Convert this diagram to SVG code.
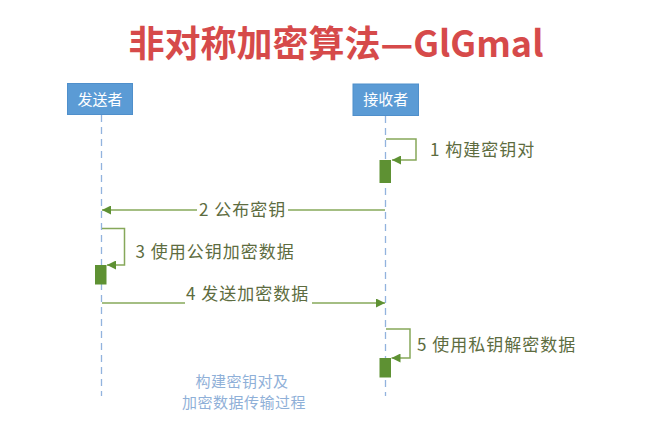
<svg xmlns="http://www.w3.org/2000/svg" width="661" height="427" viewBox="0 0 661 427">
<style>
.title{font-family:"Noto Sans CJK SC","Liberation Sans",sans-serif;font-weight:bold;font-size:36px;fill:#d64a4a;}
.box{fill:#5b9bd5;stroke:#4f8fcb;stroke-width:1;}
.boxt{font-family:"Noto Sans CJK SC",sans-serif;font-size:15px;fill:#ffffff;}
.life{stroke:#92b3de;stroke-width:1.3;stroke-dasharray:7 5;fill:none;}
.msg{stroke:#86a85a;stroke-width:1.5;fill:none;}
.bar{fill:#5e9133;}
.lbl{font-family:"Noto Sans CJK SC","Liberation Sans",sans-serif;font-size:17px;letter-spacing:1px;fill:#5d6c40;}
.note{font-family:"Noto Sans CJK SC",sans-serif;font-size:15px;letter-spacing:0.5px;fill:#8fb0d8;}
</style>
<defs>
<marker id="ah" viewBox="0 0 10 10" refX="10" refY="5" markerWidth="10" markerHeight="9" markerUnits="userSpaceOnUse" orient="auto">
<path d="M0,0 L10,5 L0,10 z" fill="#5e9133"/>
</marker>
</defs>
<rect width="661" height="427" fill="#ffffff"/>
<text class="title" x="336" y="57" text-anchor="middle">非对称加密算法—GlGmal</text>

<g id="lifelines">
<line class="life" x1="101.5" y1="115" x2="101.5" y2="396"/>
<line class="life" x1="385.5" y1="116" x2="385.5" y2="396"/>
</g>

<g id="sender">
<rect class="box" x="67.5" y="83.5" width="65" height="31"/>
<text class="boxt" x="100" y="104.5" text-anchor="middle">发送者</text>
</g>
<g id="receiver">
<rect class="box" x="353" y="84" width="65.5" height="31.5"/>
<text class="boxt" x="385.75" y="105" text-anchor="middle">接收者</text>
</g>

<g id="activations">
<rect class="bar" x="379.5" y="160" width="11.5" height="23"/>
<rect class="bar" x="95" y="265" width="11.5" height="19.5"/>
<rect class="bar" x="379.5" y="358" width="11.5" height="19.5"/>
</g>

<g id="connectors">
<polyline class="msg" points="386,139 416,139 416,160 392,160" marker-end="url(#ah)"/>
<line class="msg" x1="385" y1="210" x2="288" y2="210"/>
<line class="msg" x1="197" y1="210" x2="102" y2="210" marker-end="url(#ah)"/>
<polyline class="msg" points="102,228.5 124.5,228.5 124.5,265 107,265" marker-end="url(#ah)"/>
<line class="msg" x1="102" y1="303" x2="185" y2="303"/>
<line class="msg" x1="312" y1="303" x2="385" y2="303" marker-end="url(#ah)"/>
<polyline class="msg" points="386,329 410,329 410,358 391.5,358" marker-end="url(#ah)"/>
</g>

<g id="labels">
<text class="lbl" x="430" y="156">1 构建密钥对</text>
<text class="lbl" x="199" y="216">2 公布密钥</text>
<text class="lbl" x="135.5" y="257.5">3 使用公钥加密数据</text>
<text class="lbl" x="186" y="300">4 发送加密数据</text>
<text class="lbl" x="417" y="351">5 使用私钥解密数据</text>
</g>

<g id="note">
<text class="note" x="242" y="387" text-anchor="middle">构建密钥对及</text>
<text class="note" x="244" y="408" text-anchor="middle">加密数据传输过程</text>
</g>
</svg>
